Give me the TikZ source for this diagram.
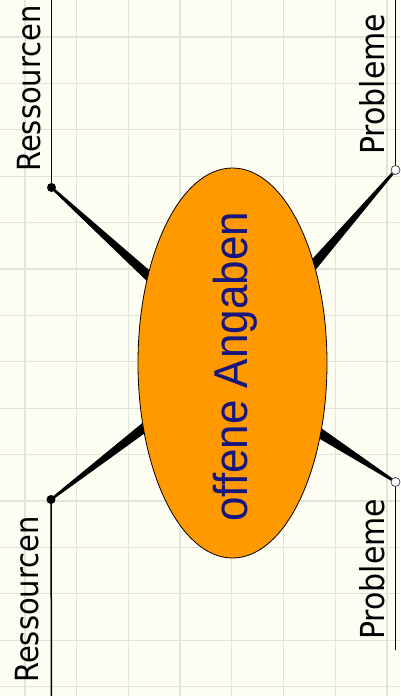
\documentclass[tikz,border=0pt]{standalone}
\usepackage{fontspec}
\usepackage{graphicx}
\usetikzlibrary{shapes.geometric,calc}
\newfontfamily\labfont{DejaVu Sans}
\newfontfamily\bigfont{Liberation Sans}
\definecolor{paper}{HTML}{FDFDF2}
\definecolor{gridc}{HTML}{DCE6DC}
\definecolor{ellfill}{HTML}{FF9900}
\definecolor{txtblue}{HTML}{16167E}
\pgfdeclarelayer{bg}
\pgfdeclarelayer{mid}
\pgfsetlayers{bg,mid,main}
\tikzset{
  lab/.style={rotate=90, anchor=base west, inner sep=0pt, font=\labfont\fontsize{29}{30}\selectfont, text=black},
  fulldot/.style={circle, fill=black, inner sep=0pt, minimum size=9pt},
  opendot/.style={circle, draw=black!70, fill=white, line width=0.8pt, inner sep=0pt, minimum size=9pt},
  stem/.style={line width=1.5pt, black},
  gridline/.style={draw=gridc, line width=1.3pt},
}
\newcommand{\wedgeconn}[2]{%
  \fill[black] ($(#1)!1.2pt!90:(#2)$) -- ($(#2)!5pt!-90:(#1)$) -- ($(#2)!5pt!90:(#1)$) -- ($(#1)!1.2pt!-90:(#2)$) -- cycle;}
\begin{document}
\begin{tikzpicture}[x=1pt,y=-1pt]
\useasboundingbox (0,0) rectangle (400,696);
\begin{pgfonlayer}{bg}
  \fill[paper] (0,0) rectangle (400,696);
  \foreach \i in {0,...,7} {\draw[gridline] (25+51.7*\i,0) -- (25+51.7*\i,696);}
  \foreach \j in {0,...,14} {\draw[gridline] (0,37+46.4*\j) -- (400,37+46.4*\j);}
\end{pgfonlayer}
% anchor coordinates
\coordinate (top1) at (51.5,0);
\coordinate (bot1) at (51.5,696);
\coordinate (top2) at (395.5,0);
\coordinate (bot2) at (395.5,650);
\coordinate (e1) at (153,280);
\coordinate (e2) at (309,270);
\coordinate (e3) at (149,424);
\coordinate (e4) at (318,432);
% nodes
\node[fulldot] (d1) at (51.5,187.5) {};
\node[fulldot] (d3) at (51,499.5) {};
\node[opendot] (d2) at (395.5,170) {};
\node[opendot] (d4) at (395.5,482) {};
\node[ellipse, draw=black, line width=0.8pt, fill=ellfill, minimum width=189pt, minimum height=390pt, inner sep=0pt] (E) at (232.5,363) {};
\node[rotate=90, anchor=base west, inner sep=0pt, text=txtblue, font=\bigfont\fontsize{44}{46}\selectfont] (T) at (247,522) {\scalebox{1}[1.08]{offene Angaben}};
\node[lab] (r1) at (40,172) {\scalebox{1}[1.1]{Ressourcen}};
\node[lab] (r2) at (38,683) {\scalebox{1}[1.1]{Ressourcen}};
\node[lab, font=\labfont\fontsize{30}{31}\selectfont] (p1) at (384,155) {\scalebox{1}[1.1]{Probleme}};
\node[lab, font=\labfont\fontsize{30}{31}\selectfont] (p2) at (384,640) {\scalebox{1}[1.1]{Probleme}};
\begin{pgfonlayer}{mid}
  \draw[stem] (d1.center) -- (top1);
  \draw[stem] (d3.center) -- (bot1);
  \draw[stem] (d2.center) -- (top2);
  \draw[stem] (d4.center) -- (bot2);
  \wedgeconn{d1.center}{e1}
  \wedgeconn{d2.center}{e2}
  \wedgeconn{d3.center}{e3}
  \wedgeconn{d4.center}{e4}
\end{pgfonlayer}
\end{tikzpicture}
\end{document}
